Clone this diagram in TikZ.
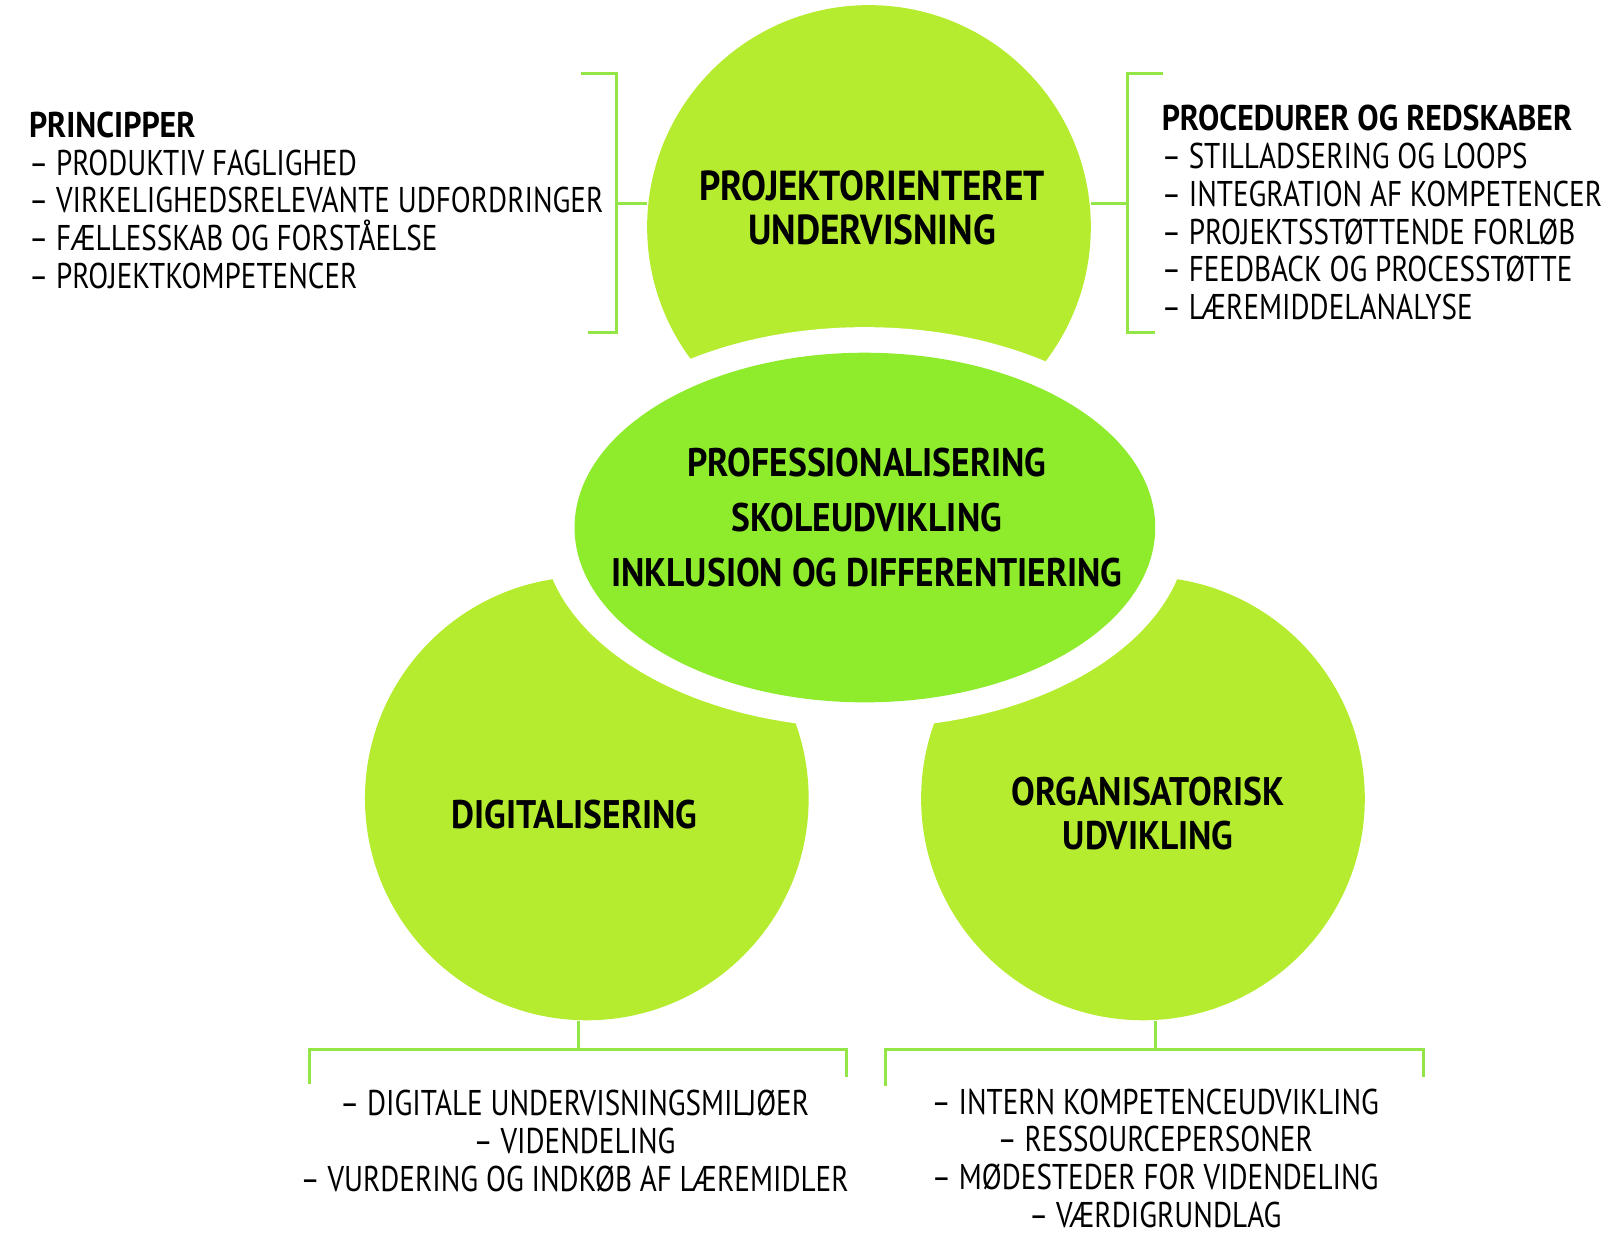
\documentclass[tikz,border=0pt]{standalone}
\usepackage{fontspec}
\setmainfont{PT Sans}[FakeStretch=0.814,BoldFeatures={FakeStretch=0.89}]
\usetikzlibrary{shapes.geometric}
\definecolor{lime}{HTML}{B5EC2F}
\definecolor{core}{HTML}{8FEC2D}
\definecolor{brk}{HTML}{93E645}
\begin{document}
\begin{tikzpicture}[x=0.5pt,y=-0.5pt,
  disc/.style={circle,fill=lime,draw=none,minimum size=217pt,inner sep=0pt},
  brack/.style={draw=brk,line width=1.5pt},
  title/.style={font=\fontsize{19.5}{21.5}\selectfont\bfseries,align=center,text=black},
  listtxt/.style={font=\fontsize{17.5}{18.5}\selectfont,inner sep=0pt,text=black}]
\useasboundingbox (0,0) rectangle (1568,1217);
% circles
\node[disc] (top) at (850,222) {};
\node[disc] (dig) at (574,781) {};
\node[disc] (org) at (1118,781) {};
% white gap and core ellipse
\node[ellipse,fill=white,minimum width=316pt,minimum height=196pt,inner sep=0pt] (gap) at (846,516) {};
\node[ellipse,fill=core,minimum width=284pt,minimum height=171pt,inner sep=0pt] (core) at (846,516) {};
\node[title,font=\fontsize{19.5}{27}\selectfont\bfseries] (coretxt) at (848,506)
  {PROFESSIONALISERING\\SKOLEUDVIKLING\\INKLUSION OG DIFFERENTIERING};
% titles
\node[title,font=\fontsize{20.5}{21.5}\selectfont\bfseries] (toptxt) at (853,203) {PROJEKTORIENTERET\\UNDERVISNING};
\node[title] (digtxt) at (562,797) {DIGITALISERING};
\node[title] (orgtxt) at (1123,796) {ORGANISATORISK\\UDVIKLING};
% brackets
\coordinate (lbm) at (603,199);
\coordinate (lbt) at (603,72);
\coordinate (lbb) at (603,325);
\draw[brack] (top.west |- lbm) -- (lbm);
\draw[brack] (568,72) -- (lbt) -- (lbb) -- (575,325);
\coordinate (rbm) at (1103,199);
\coordinate (rbt) at (1103,72);
\coordinate (rbb) at (1103,325);
\draw[brack] (top.east |- rbm) -- (rbm);
\draw[brack] (1138,72) -- (rbt) -- (rbb) -- (1130,325);
\coordinate (dbm) at (566,1027);
\draw[brack] (dig.south -| dbm) -- (dbm);
\draw[brack] (303,1060) -- (303,1027) -- (828,1027) -- (828,1053);
\coordinate (obm) at (1130,1027);
\draw[brack] (org.south -| obm) -- (obm);
\draw[brack] (866,1062) -- (866,1027) -- (1392,1027) -- (1392,1053);
% lists
\node[listtxt,anchor=west,align=left] (plist) at (28,196)
  {\textbf{PRINCIPPER}\\– PRODUKTIV FAGLIGHED\\– VIRKELIGHEDSRELEVANTE UDFORDRINGER\\– FÆLLESSKAB OG FORSTÅELSE\\– PROJEKTKOMPETENCER};
\node[listtxt,anchor=west,align=left] (rlist) at (1136,208)
  {\textbf{PROCEDURER OG REDSKABER}\\– STILLADSERING OG LOOPS\\– INTEGRATION AF KOMPETENCER\\– PROJEKTSSTØTTENDE FORLØB\\– FEEDBACK OG PROCESSTØTTE\\– LÆREMIDDELANALYSE};
\node[listtxt,align=center] (dlist) at (562,1116)
  {– DIGITALE UNDERVISNINGSMILJØER\\– VIDENDELING\\– VURDERING OG INDKØB AF LÆREMIDLER};
\node[listtxt,align=center] (olist) at (1130,1133)
  {– INTERN KOMPETENCEUDVIKLING\\– RESSOURCEPERSONER\\– MØDESTEDER FOR VIDENDELING\\– VÆRDIGRUNDLAG};
\end{tikzpicture}
\end{document}
